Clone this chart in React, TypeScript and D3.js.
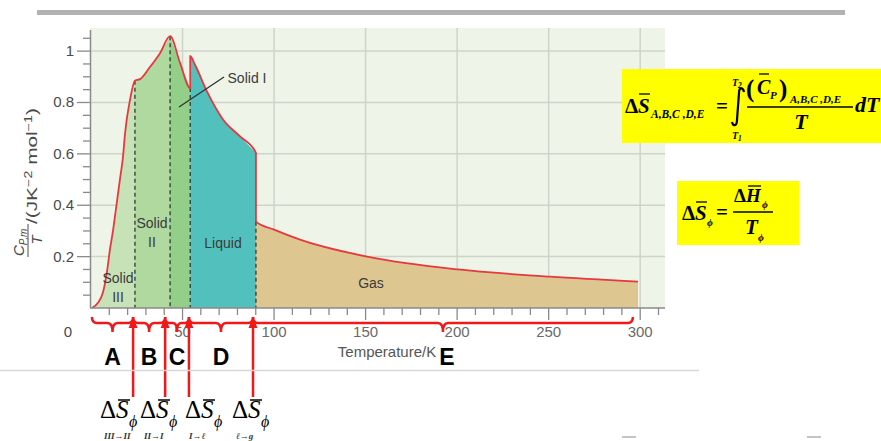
import * as d3 from 'd3';

// phase segments of Cp,m/T against temperature (K)
const solidIIIT = [0.5, 3.8, 6.5, 8.7, 10.4, 12, 13.9, 15.8, 17.5, 18.6, 21.3, 24];
const solidIIIV = [0, 0.02, 0.06, 0.14, 0.23, 0.3, 0.4, 0.5, 0.59, 0.68, 0.81, 0.885];
const solidIIT = [24, 26.8, 32.2, 37.7, 43.2];
const solidIIV = [0.885, 0.891, 0.938, 0.992, 1.058];
const solidIT = [43.2, 48.6, 54.2];
const solidIV = [1.058, 0.955, 0.856];
const liquidT = [54.2, 56.8, 63.4, 72.1, 81.4, 90.1];
const liquidV = [0.98, 0.947, 0.842, 0.734, 0.668, 0.604];
const gasT = [90.1, 100, 114.2, 150.8, 200.5, 250.7, 298.8];
const gasV = [0.336, 0.305, 0.266, 0.2, 0.15, 0.122, 0.103];

const phaseColors = ['#c7e2b7', '#afd99f', '#93cf88', '#52c1bd', '#ddc690'];

const xTickLabels = ['50', '100', '150', '200', '250', '300'];
const yTickLabels = ['0.2', '0.4', '0.6', '0.8', '1'];

// transition temperatures marked by arrows, and the brace ends
const arrowT = [23, 40.5, 53.5, 88.5];
const braceEnds = [0.5, 23, 40.5, 53.5, 88.5, 296];
const braceLetters = ['A', 'B', 'C', 'D', 'E'];
const transitionLabels = ['III\u2192II', 'II\u2192I', 'I\u2192\u2113', '\u2113\u2192g'];

const RED = '#f01818';
const PHI = '\u03d5';
const SANS = '"Liberation Sans", Arial, Helvetica, sans-serif';
const SERIF = '"Liberation Serif", "Times New Roman", serif';

export default function App() {
  const x = d3.scaleLinear().domain([0, 313]).range([91, 664]);
  const y = d3.scaleLinear().domain([0, 1.09]).range([308, 28]);

  const phases = [
    { t: solidIIIT, v: solidIIIV },
    { t: solidIIT, v: solidIIV },
    { t: solidIT, v: solidIV },
    { t: liquidT, v: liquidV },
    { t: gasT, v: gasV },
  ].map((p, i) => ({ pts: p.t.map((t, j) => [t, p.v[j]] as [number, number]), color: phaseColors[i] }));

  const area = d3
    .area<[number, number]>()
    .x((d) => x(d[0]))
    .y0(y(0))
    .y1((d) => y(d[1]))
    .curve(d3.curveMonotoneX);
  const line = d3
    .line<[number, number]>()
    .x((d) => x(d[0]))
    .y((d) => y(d[1]))
    .curve(d3.curveMonotoneX);

  const dashedAt = [
    { t: solidIIIT[solidIIIT.length - 1], v: solidIIIV[solidIIIV.length - 1] },
    { t: solidIIT[solidIIT.length - 1], v: solidIIV[solidIIV.length - 1] },
    { t: solidIT[solidIT.length - 1], v: solidIV[solidIV.length - 1] },
    { t: gasT[0], v: gasV[0] },
  ];

  const xMinor = d3.range(10, 311, 10);
  const yMinor = d3.range(0.05, 1.06, 0.05);

  const brace = (t1: number, t2: number) => {
    const x1 = x(t1);
    const x2 = x(t2);
    const xm = (x1 + x2) / 2;
    const y0 = 317;
    const y1 = 323;
    const y2 = 332;
    const q = Math.min(5, (x2 - x1) / 6);
    return `M${x1},${y0} Q${x1},${y1} ${x1 + q},${y1} L${xm - q},${y1} Q${xm},${y1} ${xm},${y2} Q${xm},${y1} ${xm + q},${y1} L${x2 - q},${y1} Q${x2},${y1} ${x2},${y0}`;
  };

  const letterX = braceLetters.map((_, i) => (i < 4 ? (x(braceEnds[i]) + x(braceEnds[i + 1])) / 2 : 447));
  const formulaX = [100, 140, 185, 232];

  return (
    <svg width={881} height={441} style={{ position: 'absolute', left: 0, top: 0, background: '#fff' }}>
      {/* top slide bar */}
      <rect x={37} y={10} width={808} height={5} fill="#b2b2b2" />

      {/* plot background and grid */}
      <rect x={90} y={28} width={575} height={280} fill="#eef4e7" />
      {xTickLabels.map((l) => (
        <line key={'gx' + l} x1={x(+l)} x2={x(+l)} y1={28} y2={308} stroke="#cfd4ca" strokeWidth={1.5} />
      ))}
      {yTickLabels.map((l) => (
        <line key={'gy' + l} x1={90} x2={665} y1={y(+l)} y2={y(+l)} stroke="#cfd4ca" strokeWidth={1.5} />
      ))}

      {/* phase areas */}
      {phases.map((p, i) => (
        <path key={'a' + i} d={area(p.pts) ?? ''} fill={p.color} />
      ))}
      {dashedAt.map((d, i) => (
        <line key={'d' + i} x1={x(d.t)} x2={x(d.t)} y1={y(d.v)} y2={y(0)} stroke="#2f3a2f" strokeWidth={1.3} strokeDasharray="4,3" />
      ))}
      <path d={line(phases.flatMap((p) => p.pts)) ?? ''} fill="none" stroke="#e5383f" strokeWidth={1.8} />

      {/* axes */}
      <line x1={90.5} x2={90.5} y1={30} y2={308} stroke="#8a8a8a" strokeWidth={1.5} />
      <line x1={90} x2={665} y1={308} y2={308} stroke="#8a8a8a" strokeWidth={1.5} />
      {yMinor.map((v, i) => {
        const major = yTickLabels.includes(String(Math.round(v * 100) / 100));
        return <line key={'yt' + i} x1={major ? 77 : 83} x2={90} y1={y(v)} y2={y(v)} stroke="#8a8a8a" strokeWidth={1.3} />;
      })}
      {xMinor.map((t) => (
        <line key={'xt' + t} x1={x(t)} x2={x(t)} y1={308} y2={t % 50 === 0 ? 320 : 315} stroke="#8a8a8a" strokeWidth={1.3} />
      ))}
      {yTickLabels.map((l) => (
        <text key={'yl' + l} x={74} y={y(+l) + 5} textAnchor="end" fontSize={15} fontFamily={SANS} fill="#4a4a4a">
          {l}
        </text>
      ))}
      {xTickLabels.map((l) => (
        <text key={'xl' + l} x={x(+l)} y={337} textAnchor="middle" fontSize={15} fontFamily={SANS} fill="#6a6a6a">
          {l}
        </text>
      ))}
      <text x={68} y={337} textAnchor="middle" fontSize={15} fontFamily={SANS} fill="#4a4a4a">
        0
      </text>
      <text x={387} y={357} textAnchor="middle" fontSize={15} fontFamily={SANS} fill="#555">
        Temperature/K
      </text>

      {/* y axis title */}
      <g transform="rotate(-90)" fontFamily={SANS} fill="#4a4a4a">
        <text x={-256} y={24} fontSize={15} fontStyle="italic">
          C<tspan fontSize={10} dy={3}>P,m</tspan>
        </text>
        <line x1={-257} x2={-224} y1={28} y2={28} stroke="#4a4a4a" strokeWidth={1} />
        <text x={-240} y={42} fontSize={15} fontStyle="italic" textAnchor="middle">
          T
        </text>
        <text x={-224} y={37} fontSize={14.5} textLength={116} lengthAdjust="spacingAndGlyphs">
          /(JK<tspan fontSize={10} dy={-5}>−2</tspan>
          <tspan dy={5}> mol</tspan>
          <tspan fontSize={10} dy={-5}>−1</tspan>
          <tspan dy={5}>)</tspan>
        </text>
      </g>

      {/* phase labels */}
      <g fontFamily={SANS} fontSize={14} fill="#3b3b3b" textAnchor="middle">
        <text x={118} y={283}>Solid</text>
        <text x={118} y={302}>III</text>
        <text x={152} y={228}>Solid</text>
        <text x={152} y={247}>II</text>
        <text x={223} y={248}>Liquid</text>
        <text x={371} y={288}>Gas</text>
        <text x={247} y={83}>Solid I</text>
      </g>
      <line x1={179} y1={107} x2={224} y2={77} stroke="#333" strokeWidth={1.3} />

      {/* yellow formula boxes */}
      <rect x={622} y={69} width={259} height={74} fill="#ffff00" />
      <g fontFamily={SERIF} fontWeight="bold" fill="#000">
        <text x={625} y={113} fontSize={21}>Δ</text>
        <text x={638} y={113} fontSize={21} fontStyle="italic">S</text>
        <line x1={639} x2={650} y1={94} y2={94} stroke="#000" strokeWidth={1.3} />
        <text x={651} y={118} fontSize={11.5} fontStyle="italic">A,B,C ,D,E</text>
        <text x={716} y={113} fontSize={21}>=</text>
        <path d="M744,92 C743,87 739,87 739,93 L737,120 C737,126 733,127 732,122" fill="none" stroke="#000" strokeWidth={2.2} />
        <text x={732} y={86} fontSize={10} fontStyle="italic">T<tspan fontSize={7.5} dy={2}>2</tspan></text>
        <text x={732} y={139} fontSize={10} fontStyle="italic">T<tspan fontSize={7.5} dy={2}>1</tspan></text>
        <text x={746} y={97} fontSize={25}>(</text>
        <text x={757} y={94} fontSize={20} fontStyle="italic">C</text>
        <line x1={759} x2={769} y1={74} y2={74} stroke="#000" strokeWidth={1.3} />
        <text x={770} y={99} fontSize={11} fontStyle="italic">P</text>
        <text x={779} y={97} fontSize={25}>)</text>
        <text x={790} y={103} fontSize={11} fontStyle="italic">A,B,C ,D,E</text>
        <line x1={747} x2={853} y1={107} y2={107} stroke="#000" strokeWidth={1.3} />
        <text x={801} y={129} fontSize={22} fontStyle="italic" textAnchor="middle">T</text>
        <text x={855} y={112} fontSize={22} fontStyle="italic">dT</text>
      </g>
      <rect x={677} y={181} width={122} height={64} fill="#ffff00" />
      <g fontFamily={SERIF} fontWeight="bold" fill="#000">
        <text x={682} y={220} fontSize={21}>Δ</text>
        <text x={695} y={220} fontSize={21} fontStyle="italic">S</text>
        <line x1={696} x2={707} y1={202} y2={202} stroke="#000" strokeWidth={1.3} />
        <text x={707} y={226} fontSize={10} fontStyle="italic">{PHI}</text>
        <text x={716} y={219} fontSize={21}>=</text>
        <text x={734} y={202} fontSize={19}>Δ</text>
        <text x={746} y={202} fontSize={19} fontStyle="italic">H</text>
        <line x1={748} x2={761} y1={186} y2={186} stroke="#000" strokeWidth={1.3} />
        <text x={762} y={208} fontSize={10} fontStyle="italic">{PHI}</text>
        <line x1={733} x2={773} y1={212} y2={212} stroke="#000" strokeWidth={1.3} />
        <text x={745} y={234} fontSize={21} fontStyle="italic">T</text>
        <text x={758} y={241} fontSize={10} fontStyle="italic">{PHI}</text>
      </g>

      {/* braces, arrows and letters */}
      {braceLetters.map((l, i) => (
        <path key={'b' + l} d={brace(braceEnds[i], braceEnds[i + 1])} fill="none" stroke={RED} strokeWidth={2.5} />
      ))}
      {arrowT.map((t, i) => (
        <g key={'ar' + i}>
          <line x1={x(t)} x2={x(t)} y1={397} y2={326} stroke={RED} strokeWidth={2.5} />
          <path d={`M${x(t)},317 L${x(t) - 4.5},328 L${x(t) + 4.5},328 Z`} fill={RED} />
        </g>
      ))}
      {braceLetters.map((l, i) => (
        <text key={'l' + l} x={letterX[i]} y={365} textAnchor="middle" fontSize={23} fontWeight="bold" fontFamily={SANS} fill="#000">
          {l}
        </text>
      ))}

      <line x1={0} x2={699} y1={370.5} y2={370.5} stroke="#d8d8d8" strokeWidth={1.5} />
      <rect x={622} y={436} width={14} height={2} fill="#c4c4c4" />
      <rect x={807} y={436} width={14} height={2} fill="#c4c4c4" />

      {/* transition entropies */}
      <g fontFamily={SERIF} fill="#000">
        {formulaX.map((fx, i) => (
          <g key={'f' + i}>
            <text x={fx} y={418} fontSize={25}>Δ</text>
            <text x={fx + 16} y={418} fontSize={25} fontStyle="italic">S</text>
            <line x1={fx + 18} x2={fx + 30} y1={400} y2={400} stroke="#000" strokeWidth={1.5} />
            <text x={fx + 29} y={427} fontSize={16} fontStyle="italic">{PHI}</text>
            <text x={fx + 4} y={439} fontSize={9} fontStyle="italic" fontWeight="bold" fill="#333">
              {transitionLabels[i]}
            </text>
          </g>
        ))}
      </g>
    </svg>
  );
}
